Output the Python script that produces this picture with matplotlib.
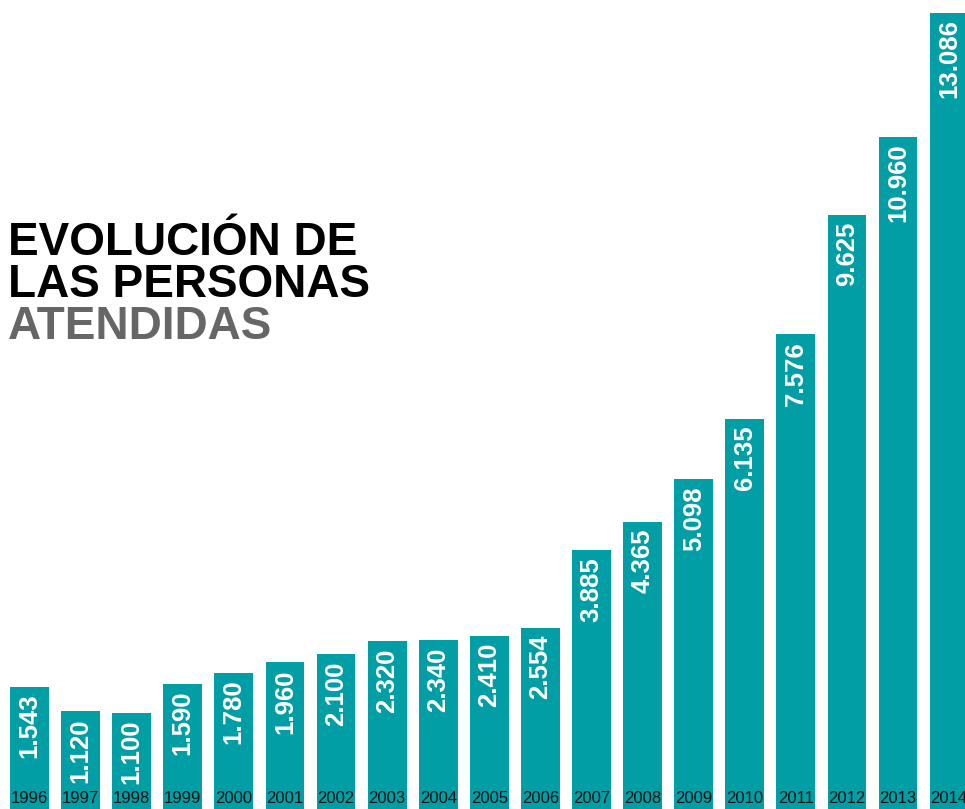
import numpy as np
import matplotlib.pyplot as plt

plt.rcParams['font.family'] = ['Liberation Sans', 'DejaVu Sans']

years = ["1996", "1997", "1998", "1999", "2000", "2001", "2002", "2003", "2004", "2005",
         "2006", "2007", "2008", "2009", "2010", "2011", "2012", "2013", "2014"]
personas = [1543, 1120, 1100, 1590, 1780, 1960, 2100, 2320, 2340, 2410,
            2554, 3885, 4365, 5098, 6135, 7576, 9625, 10960, 13086]
etiquetas = ["1.543", "1.120", "1.100", "1.590", "1.780", "1.960", "2.100", "2.320", "2.340", "2.410",
             "2.554", "3.885", "4.365", "5.098", "6.135", "7.576", "9.625", "10.960", "13.086"]

teal = '#019ea6'
ymin, ymax = -550, 13300

fig = plt.figure(figsize=(9.65, 8.09), dpi=100)
ax = fig.add_axes([0, 0, 1, 1])
x = np.arange(len(years))
vals = np.array(personas)
ax.bar(x, vals - ymin, bottom=ymin, width=0.76, color=teal)

for xi, v, lab, yr in zip(x, vals, etiquetas, years):
    ax.annotate(lab, (xi, v), xytext=(0, -5), textcoords='offset points',
                rotation=90, ha='center', va='top', color='white',
                fontsize=18.5, fontweight='bold')
    ax.annotate(yr, (xi, ymin), xytext=(0, 2), textcoords='offset points',
                ha='center', va='bottom', fontsize=12, color='#111111')

ax.set_xlim(-0.577, 18.31)
ax.set_ylim(ymin, ymax)
ax.axis('off')

fig.text(8 / 965, 1 - 297 / 809, "EVOLUCIÓN DE\nLAS PERSONAS", fontsize=33, fontweight='bold',
         color='black', ha='left', va='baseline', linespacing=0.95)
fig.text(8 / 965, 1 - 339 / 809, "ATENDIDAS", fontsize=33, fontweight='bold',
         color='#666666', ha='left', va='baseline')

fig.savefig('out.png', dpi=100)
